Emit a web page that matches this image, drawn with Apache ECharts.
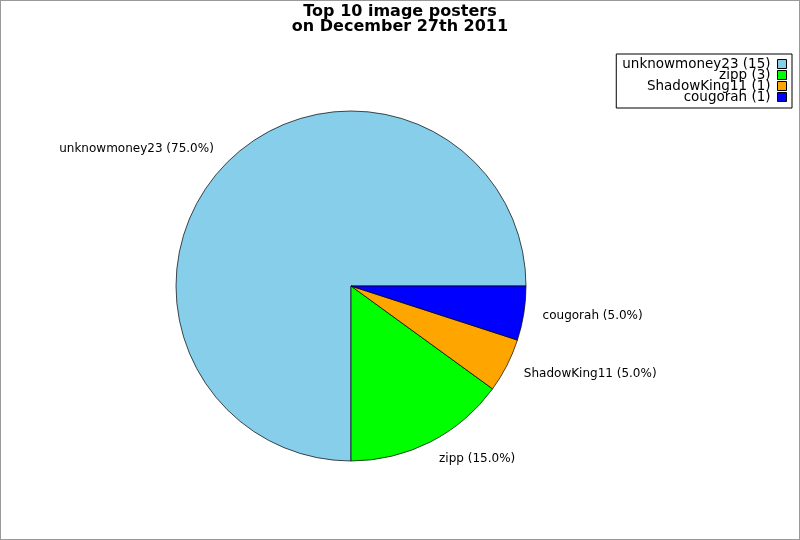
<!DOCTYPE html>
<html><head><meta charset="utf-8">
<script src="https://cdn.jsdelivr.net/npm/echarts@6/dist/echarts.min.js"></script>
<style>html,body{margin:0;padding:0;background:#fff}#c{width:798px;height:538px;border:1px solid #999}</style>
</head><body><div id="c"></div>
<script>
const names = ['unknowmoney23', 'zipp', 'ShadowKing11', 'cougorah'];
const counts = [15, 3, 1, 1];
const colors = ['#87CEEB', '#00FF00', '#FFA500', '#0000FF'];
const titleText = 'Top 10 image posters\non December 27th 2011';

const chart = echarts.init(document.getElementById('c'));
const total = counts.reduce((a, b) => a + b, 0);
chart.setOption({
  animation: false,
  title: {
    text: titleText, left: 'center', top: -1.5,
    textStyle: { fontFamily: 'DejaVu Sans', fontWeight: 'bold', fontSize: 16, lineHeight: 15, color: '#000' }
  },
  legend: {
    orient: 'vertical', right: 7, top: 53, align: 'right',
    itemWidth: 9, itemHeight: 9, itemGap: -3,
    borderColor: '#000', borderWidth: 1, padding: [3, 5, 4, 6],
    icon: 'rect',
    textStyle: { fontFamily: 'DejaVu Sans', fontSize: 13.5, lineHeight: 11, color: '#000', padding: [0, 2, 0, 0] },
    formatter: n => n + ' (' + counts[names.indexOf(n)] + ')',
    data: names.map((n, i) => ({ name: n, itemStyle: { borderColor: '#000', borderWidth: 1 } }))
  },
  series: [{
    type: 'pie', center: [350, 285], radius: 175,
    startAngle: 0, clockwise: false,
    label: {
      show: true, position: 'outside', fontFamily: 'DejaVu Sans', fontSize: 12, color: '#000',
      formatter: p => p.name + ' (' + (p.value / total * 100).toFixed(1) + '%)'
    },
    labelLine: { show: false, length: 19, length2: -5 },
    itemStyle: { borderColor: '#000', borderWidth: 0.7 },
    emphasis: { disabled: true },
    data: names.map((n, i) => ({ name: n, value: counts[i], itemStyle: { color: colors[i] } }))
  }]
});
</script></body></html>
